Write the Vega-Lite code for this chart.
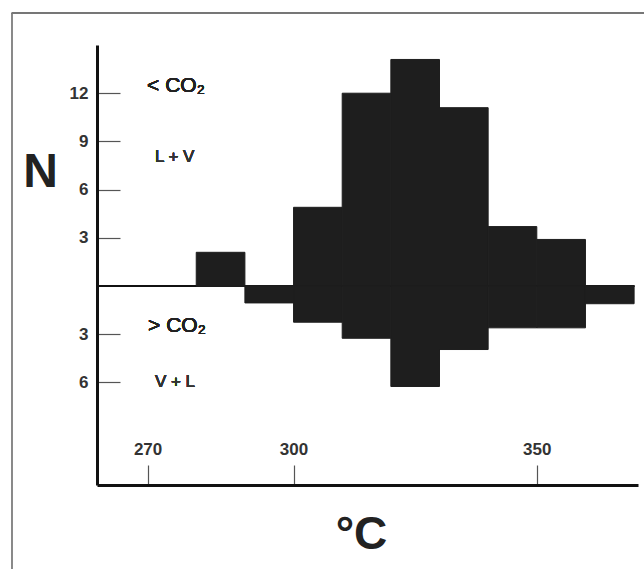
{
  "$schema": "https://vega.github.io/schema/vega-lite/v6.json",
  "width": 541,
  "height": 440,
  "autosize": {"type": "none"},
  "padding": {"left": 97, "top": 45, "right": 6, "bottom": 84},
  "background": "white",
  "config": {
    "view": {"stroke": null},
    "font": "Liberation Sans",
    "axis": {"grid": false}
  },
  "data": {
    "values": [
      {"t0": 280, "t1": 290, "lv": 2.1, "vl": 0},
      {"t0": 290, "t1": 300, "lv": 0, "vl": 1.05},
      {"t0": 300, "t1": 310, "lv": 4.9, "vl": 2.25},
      {"t0": 310, "t1": 320, "lv": 12, "vl": 3.25},
      {"t0": 320, "t1": 330, "lv": 14.1, "vl": 6.25},
      {"t0": 330, "t1": 340, "lv": 11.1, "vl": 3.95},
      {"t0": 340, "t1": 350, "lv": 3.7, "vl": 2.6},
      {"t0": 350, "t1": 360, "lv": 2.9, "vl": 2.6},
      {"t0": 360, "t1": 370, "lv": 0, "vl": 1.1}
    ]
  },
  "layer": [
    {
      "layer": [
        {
          "mark": {"type": "rule", "color": "#8a8a8a", "strokeWidth": 1.5, "clip": false},
          "encoding": {
            "x": {"datum": 242.1},
            "y": {"datum": 16.98},
            "y2": {"datum": -40}
          }
        },
        {
          "mark": {"type": "rule", "color": "#777777", "strokeWidth": 1.5, "clip": false},
          "encoding": {
            "x": {"datum": 242.1},
            "x2": {"datum": 500},
            "y": {"datum": 16.98}
          }
        },
        {
          "mark": {"type": "rule", "color": "#111", "strokeWidth": 2},
          "encoding": {
            "x": {"datum": 259.6},
            "x2": {"datum": 370},
            "y": {"datum": 0}
          }
        },
        {
          "mark": {"type": "bar", "color": "#1e1e1e", "stroke": "#1e1e1e", "strokeWidth": 1},
          "encoding": {
            "x": {
              "field": "t0",
              "type": "quantitative",
              "scale": {"domain": [259.6, 370.8], "nice": false, "zero": false},
              "axis": {
                "values": [270, 300, 350],
                "title": "°C",
                "domainColor": "#111",
                "domainWidth": 3,
                "tickColor": "#555",
                "tickWidth": 1.2,
                "tickSize": -20,
                "labelFontSize": 17,
                "labelFontWeight": "bold",
                "labelColor": "#333",
                "labelBaseline": "alphabetic",
                "labelPadding": -11,
                "labelFlush": false,
                "titleFontSize": 46,
                "titleFontWeight": "bold",
                "titleColor": "#222",
                "titleX": 264,
                "titleY": 63,
                "titleAlign": "center",
                "titleBaseline": "alphabetic"
              }
            },
            "x2": {"field": "t1"},
            "y": {
              "field": "lv",
              "type": "quantitative",
              "scale": {"domain": [-12.38, 15], "nice": false, "zero": false},
              "axis": {
                "values": [12, 9, 6, 3, -3, -6],
                "labelExpr": "format(abs(datum.value), 'd')",
                "title": "N",
                "domainColor": "#111",
                "domainWidth": 3,
                "tickColor": "#555",
                "tickWidth": 1.2,
                "tickSize": -23,
                "labelFontSize": 17,
                "labelFontWeight": "bold",
                "labelColor": "#333",
                "labelPadding": 32,
                "labelBaseline": "middle",
                "labelFlush": false,
                "titleFontSize": 48,
                "titleFontWeight": "bold",
                "titleColor": "#222",
                "titleAngle": 0,
                "titleX": -57,
                "titleY": 141.7,
                "titleAlign": "center",
                "titleBaseline": "alphabetic"
              }
            },
            "y2": {"datum": 0}
          }
        },
        {
          "mark": {"type": "text", "text": "< CO₂", "align": "left", "baseline": "alphabetic", "fontSize": 21, "color": "#222"},
          "encoding": {"x": {"datum": 269.9}, "y": {"datum": 12.08}}
        },
        {
          "mark": {"type": "text", "text": "L + V", "align": "left", "baseline": "alphabetic", "fontSize": 17, "color": "#333"},
          "encoding": {"x": {"datum": 271.5}, "y": {"datum": 7.73}}
        },
        {
          "mark": {"type": "text", "text": "> CO₂", "align": "left", "baseline": "alphabetic", "fontSize": 21, "color": "#222"},
          "encoding": {"x": {"datum": 270.1}, "y": {"datum": -2.84}}
        },
        {
          "mark": {"type": "text", "text": "V + L", "align": "left", "baseline": "alphabetic", "fontSize": 17, "color": "#333"},
          "encoding": {"x": {"datum": 271.5}, "y": {"datum": -6.3}}
        }
      ]
    },
    {
      "mark": {"type": "bar", "color": "#1e1e1e", "stroke": "#1e1e1e", "strokeWidth": 1},
      "encoding": {
        "x": {
          "field": "t0",
          "type": "quantitative",
          "scale": {"domain": [259.6, 370.8], "nice": false, "zero": false},
          "axis": {
            "values": [270, 300, 350],
            "title": "°C",
            "domainColor": "#111",
            "domainWidth": 3,
            "tickColor": "#555",
            "tickWidth": 1.2,
            "tickSize": -20,
            "labelFontSize": 17,
            "labelFontWeight": "bold",
            "labelColor": "#333",
            "labelBaseline": "alphabetic",
            "labelPadding": -11,
            "labelFlush": false,
            "titleFontSize": 46,
            "titleFontWeight": "bold",
            "titleColor": "#222",
            "titleX": 264,
            "titleY": 63,
            "titleAlign": "center",
            "titleBaseline": "alphabetic"
          }
        },
        "x2": {"field": "t1"},
        "y": {
          "field": "vl",
          "type": "quantitative",
          "scale": {"domain": [-15, 12.38], "reverse": true, "nice": false, "zero": false},
          "axis": null
        },
        "y2": {"datum": 0}
      }
    }
  ],
  "resolve": {"scale": {"y": "independent"}}
}
